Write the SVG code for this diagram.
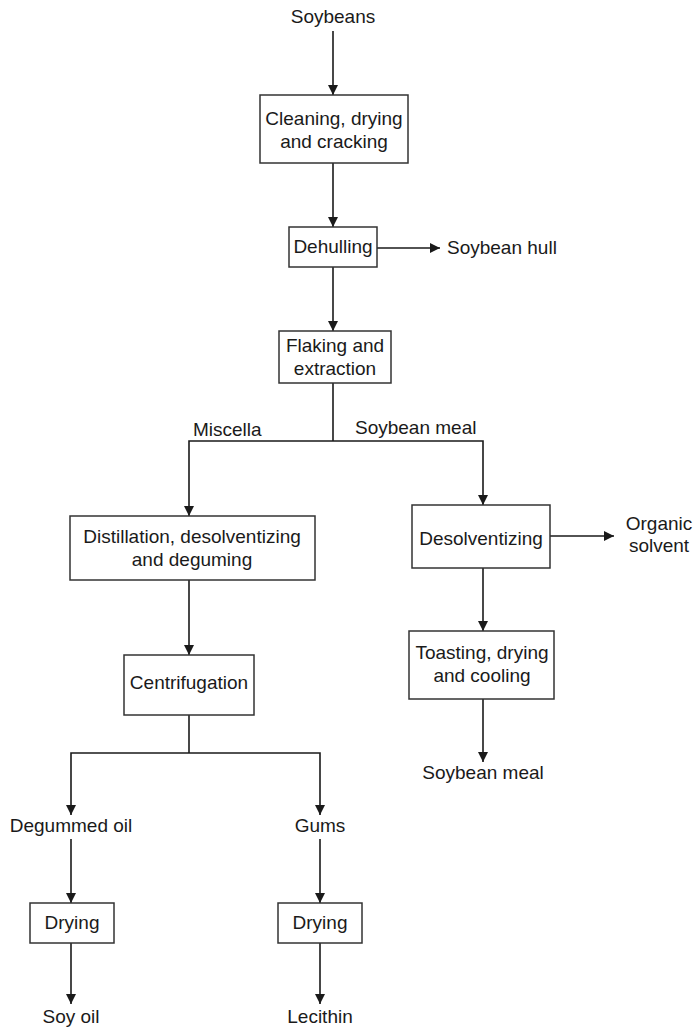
<svg xmlns="http://www.w3.org/2000/svg" width="693" height="1029" viewBox="0 0 693 1029">
  <defs>
    <marker id="arrow" viewBox="0 0 10 10" refX="10" refY="5" markerWidth="10" markerHeight="10" markerUnits="userSpaceOnUse" orient="auto">
      <path d="M0,0 L10,5 L0,10 Z" fill="#1a1a1a"/>
    </marker>
    <style>
      .box { fill: #ffffff; stroke: #333333; stroke-width: 1.5; }
      .lbl { font-family: "Liberation Sans", Arial, sans-serif; font-size: 19px; fill: #1a1a1a; text-anchor: middle; }
      .start { text-anchor: start; }
      .line { fill: none; stroke: #1a1a1a; stroke-width: 1.6; }
      .arr { fill: none; stroke: #1a1a1a; stroke-width: 1.6; marker-end: url(#arrow); }
    </style>
  </defs>
  <rect width="693" height="1029" fill="#ffffff"/>

  <g id="connectors">
    <line class="arr" x1="333" y1="31" x2="333" y2="95"/>
    <line class="arr" x1="333" y1="163" x2="333" y2="227"/>
    <line class="arr" x1="377" y1="248" x2="440" y2="248"/>
    <line class="arr" x1="333" y1="267" x2="333" y2="331"/>
    <polyline class="line" points="333,383 333,441"/>
    <polyline class="arr" points="333,441 189,441 189,516"/>
    <polyline class="arr" points="333,441 483,441 483,505"/>
    <line class="arr" x1="550" y1="536" x2="614" y2="536"/>
    <line class="arr" x1="189" y1="580" x2="189" y2="655"/>
    <line class="arr" x1="483" y1="568" x2="483" y2="631"/>
    <line class="arr" x1="483" y1="699" x2="483" y2="762"/>
    <polyline class="line" points="189,715 189,753"/>
    <polyline class="arr" points="189,753 71,753 71,815"/>
    <polyline class="arr" points="189,753 320,753 320,815"/>
    <line class="arr" x1="71" y1="839" x2="71" y2="903"/>
    <line class="arr" x1="320" y1="839" x2="320" y2="903"/>
    <line class="arr" x1="71" y1="943" x2="71" y2="1004"/>
    <line class="arr" x1="320" y1="943" x2="320" y2="1004"/>
  </g>

  <g id="soybeans">
    <text class="lbl" x="333" y="23">Soybeans</text>
  </g>

  <g id="cleaning">
    <rect class="box" x="260" y="95" width="148" height="68"/>
    <text class="lbl" x="334" y="125">Cleaning, drying</text>
    <text class="lbl" x="334" y="148">and cracking</text>
  </g>

  <g id="dehulling">
    <rect class="box" x="289" y="227" width="88" height="40"/>
    <text class="lbl" x="333" y="253">Dehulling</text>
  </g>

  <g id="soybean-hull">
    <text class="lbl start" x="447" y="254">Soybean hull</text>
  </g>

  <g id="flaking">
    <rect class="box" x="279" y="331" width="112" height="52"/>
    <text class="lbl" x="335" y="352">Flaking and</text>
    <text class="lbl" x="335" y="375">extraction</text>
  </g>

  <g id="miscella">
    <text class="lbl start" x="193" y="436">Miscella</text>
  </g>

  <g id="soybean-meal-label">
    <text class="lbl start" x="355" y="434">Soybean meal</text>
  </g>

  <g id="distillation">
    <rect class="box" x="70" y="516" width="245" height="64"/>
    <text class="lbl" x="192" y="543">Distillation, desolventizing</text>
    <text class="lbl" x="192" y="566">and deguming</text>
  </g>

  <g id="desolventizing">
    <rect class="box" x="412" y="505" width="138" height="63"/>
    <text class="lbl" x="481" y="545">Desolventizing</text>
  </g>

  <g id="organic-solvent">
    <text class="lbl" x="659" y="530">Organic</text>
    <text class="lbl" x="659" y="552">solvent</text>
  </g>

  <g id="centrifugation">
    <rect class="box" x="124" y="655" width="130" height="60"/>
    <text class="lbl" x="189" y="689">Centrifugation</text>
  </g>

  <g id="toasting">
    <rect class="box" x="409" y="631" width="145" height="68"/>
    <text class="lbl" x="482" y="659">Toasting, drying</text>
    <text class="lbl" x="482" y="682">and cooling</text>
  </g>

  <g id="soybean-meal">
    <text class="lbl" x="483" y="779">Soybean meal</text>
  </g>

  <g id="degummed-oil">
    <text class="lbl" x="71" y="832">Degummed oil</text>
  </g>

  <g id="gums">
    <text class="lbl" x="320" y="832">Gums</text>
  </g>

  <g id="drying-oil">
    <rect class="box" x="30" y="903" width="84" height="40"/>
    <text class="lbl" x="72" y="929">Drying</text>
  </g>

  <g id="drying-gums">
    <rect class="box" x="278" y="903" width="84" height="40"/>
    <text class="lbl" x="320" y="929">Drying</text>
  </g>

  <g id="soy-oil">
    <text class="lbl" x="71" y="1023">Soy oil</text>
  </g>

  <g id="lecithin">
    <text class="lbl" x="320" y="1023">Lecithin</text>
  </g>
</svg>
